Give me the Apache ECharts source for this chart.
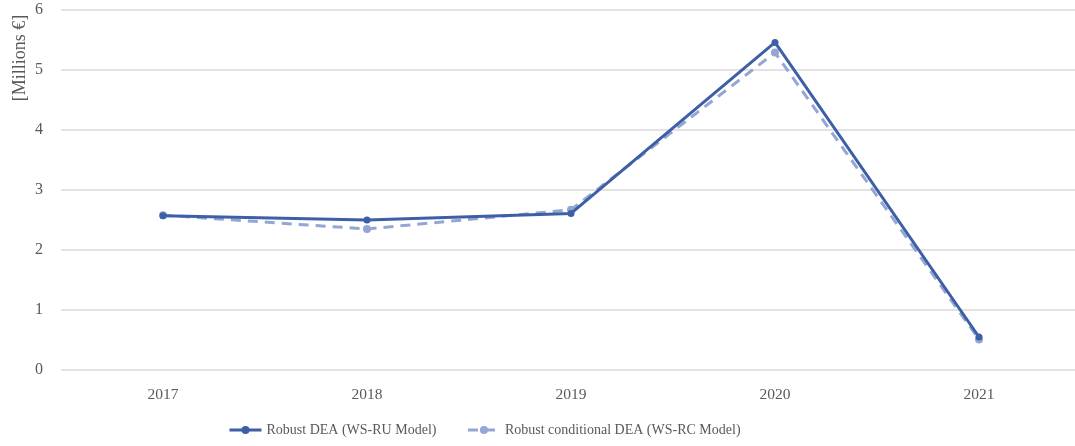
<!DOCTYPE html>
<html><head><meta charset="utf-8">
<script src="https://cdn.jsdelivr.net/npm/echarts@6/dist/echarts.min.js"></script>
<style>html,body{margin:0;padding:0;background:#fff;overflow:hidden}#c{width:1081px;height:446px}</style>
</head><body><div id="c"></div>
<script>
const categories = ['2017','2018','2019','2020','2021'];
const robustDEA = [2.57, 2.50, 2.61, 5.46, 0.55];
const robustConditionalDEA = [2.58, 2.35, 2.67, 5.29, 0.51];
const seriesNames = ['Robust DEA (WS-RU Model)', 'Robust conditional DEA (WS-RC Model)'];
const yAxisLabel = '[Millions €]';

const FONT = 'Liberation Serif';
const chart = echarts.init(document.getElementById('c'));
chart.setOption({
  animation: false,
  textStyle: { fontFamily: FONT },
  grid: { left: 61, top: 10, right: 0, height: 360, containLabel: false },
  legend: {
    top: 418, left: 223, itemWidth: 32, itemHeight: 10, itemGap: 30,
    lineStyle: { width: 3 },
    textStyle: { fontFamily: FONT, fontSize: 14, color: '#595959' },
    data: seriesNames
  },
  xAxis: {
    type: 'category', data: categories, boundaryGap: true,
    axisLine: { show: false }, axisTick: { show: false },
    axisLabel: { fontFamily: FONT, fontSize: 15.5, color: '#595959', margin: 17 }
  },
  yAxis: {
    type: 'value', min: 0, max: 6, interval: 1,
    axisLine: { show: false }, axisTick: { show: false },
    axisLabel: { fontFamily: FONT, fontSize: 16, color: '#595959', margin: 18 },
    splitLine: { lineStyle: { color: '#d9d9d9', width: 1.5 } }
  },
  graphic: [{
    type: 'text', x: 20, y: 58, rotation: Math.PI/2,
    style: { text: yAxisLabel, font: '18px "Liberation Serif"', fill: '#595959', align: 'center', verticalAlign: 'middle' }
  }],
  series: [
    { name: seriesNames[0], type: 'line', data: robustDEA, symbol: 'circle', symbolSize: 7,
      lineStyle: { color: '#3d5fa6', width: 3 }, itemStyle: { color: '#3d5fa6' }, z: 3 },
    { name: seriesNames[1], type: 'line', data: robustConditionalDEA, symbol: 'circle', symbolSize: 8,
      lineStyle: { color: '#93a6d4', width: 3, type: [10, 7] }, itemStyle: { color: '#93a6d4' }, z: 2 }
  ]
});
</script></body></html>
